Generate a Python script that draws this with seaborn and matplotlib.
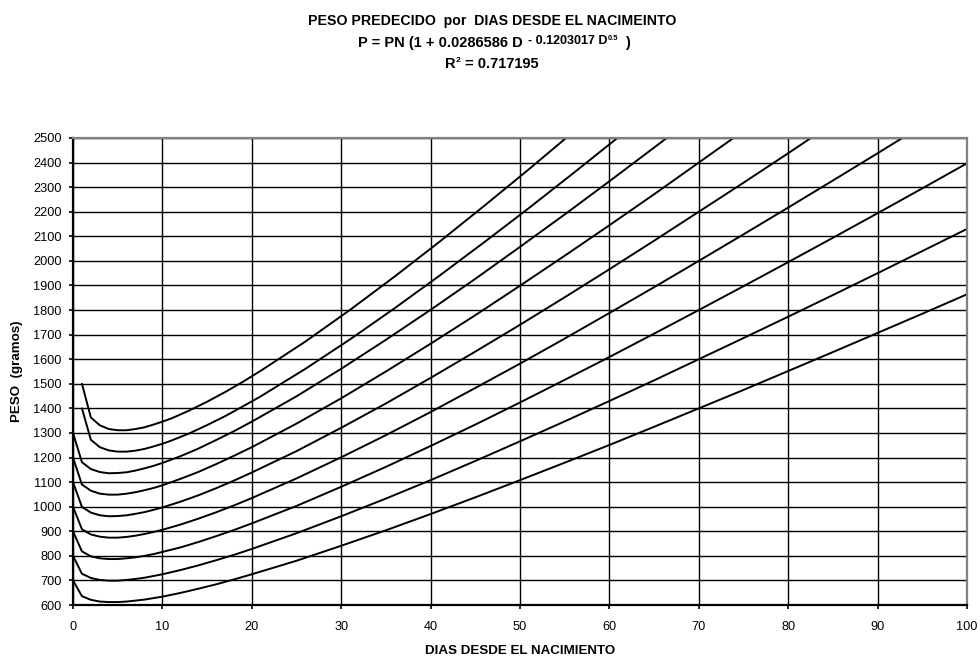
import matplotlib
matplotlib.use("Agg")
import matplotlib.pyplot as plt
from matplotlib.transforms import IdentityTransform
import numpy as np
import pandas as pd
import seaborn as sns

# Days since birth at which the predicted weights are listed
DIAS = [0, 1, 2, 3, 4, 5, 6, 7, 8, 9, 10, 12, 14, 16, 18, 20,
        25, 30, 35, 40, 45, 50, 55, 60, 65, 70, 75, 80, 85, 90, 95, 100]
# The two heaviest birth weights are listed one day later
DIAS_TARDE = [1, 2, 3, 4, 5, 6, 7, 8, 9, 10, 11, 13, 15, 17, 19, 21,
              26, 31, 36, 41, 46, 51, 56, 61]

# Predicted weight (grams) for each birth weight PN
PESO_700 = [700, 636, 621, 614, 612, 612, 614, 618, 622, 628, 634, 649, 666, 684, 704, 725,
            780, 841, 904, 970, 1038, 1108, 1179, 1251, 1325, 1400, 1475, 1552, 1629, 1707, 1785, 1864]
PESO_800 = [800, 727, 710, 702, 699, 699, 702, 706, 711, 718, 725, 742, 761, 782, 804, 828,
            892, 961, 1033, 1108, 1186, 1266, 1347, 1430, 1514, 1600, 1686, 1773, 1861, 1950, 2040, 2130]
PESO_900 = [900, 818, 798, 790, 787, 787, 790, 794, 800, 807, 816, 834, 856, 880, 905, 932,
            1003, 1081, 1162, 1247, 1334, 1424, 1516, 1609, 1704, 1800, 1897, 1995, 2094, 2194, 2295, 2397]
PESO_1000 = [1000, 908, 887, 878, 874, 874, 877, 882, 889, 897, 906, 927, 951, 977, 1005, 1035,
             1115, 1201, 1291, 1385, 1483, 1582, 1684, 1788, 1893, 2000, 2108, 2217, 2327, 2438, 2550]
PESO_1100 = [1100, 999, 976, 965, 961, 962, 965, 971, 978, 987, 997, 1020, 1046, 1075, 1106, 1139,
             1226, 1321, 1420, 1524, 1631, 1740, 1852, 1966, 2082, 2200, 2318, 2438, 2560]
PESO_1200 = [1200, 1090, 1065, 1053, 1049, 1049, 1053, 1059, 1067, 1076, 1087, 1113, 1141, 1173, 1207, 1242,
             1338, 1441, 1550, 1663, 1779, 1899, 2021, 2145, 2271, 2400, 2529]
PESO_1300 = [1300, 1181, 1153, 1141, 1136, 1137, 1140, 1147, 1156, 1166, 1178, 1205, 1236, 1271, 1307, 1346,
             1449, 1561, 1679, 1801, 1927, 2057, 2189, 2324, 2461, 2599]
PESO_1400 = [1400, 1272, 1242, 1229, 1224, 1224, 1228, 1235, 1245, 1256, 1269, 1298, 1332, 1368, 1408, 1449,
             1561, 1681, 1808, 1940, 2076, 2215, 2358, 2503]
PESO_1500 = [1500, 1363, 1331, 1316, 1311, 1311, 1316, 1323, 1334, 1346, 1359, 1391, 1427, 1466, 1508, 1553,
             1672, 1801, 1937, 2078, 2224, 2373, 2526]

CURVAS = [
    ("700", DIAS, PESO_700),
    ("800", DIAS, PESO_800),
    ("900", DIAS, PESO_900),
    ("1000", DIAS, PESO_1000),
    ("1100", DIAS, PESO_1100),
    ("1200", DIAS, PESO_1200),
    ("1300", DIAS, PESO_1300),
    ("1400", DIAS_TARDE, PESO_1400),
    ("1500", DIAS_TARDE, PESO_1500),
]

X_TICKS = list(range(0, 101, 10))
Y_TICKS = list(range(600, 2501, 100))

filas = []
for pn, dias, pesos in CURVAS:
    for d, p in zip(dias, pesos):
        filas.append({"pn": pn, "dia": d, "peso": p})
df = pd.DataFrame(filas)

sns.set_style("ticks")
plt.rcParams["font.family"] = ["Liberation Sans", "DejaVu Sans"]
plt.rcParams["text.color"] = "black"
plt.rcParams["xtick.color"] = "black"
plt.rcParams["ytick.color"] = "black"

W, H = 980, 657
fig = plt.figure(figsize=(W / 100, H / 100), dpi=100)
x0, x1, y0, y1 = 73, 967, 138, 605
ax = fig.add_axes([x0 / W, 1 - y1 / H, (x1 - x0) / W, (y1 - y0) / H])

sns.lineplot(data=df, x="dia", y="peso", units="pn", estimator=None, sort=False,
             color="black", linewidth=1.4, ax=ax, legend=False)

ax.set_xlim(0, 100)
ax.set_ylim(600, 2500)
ax.set_xticks(X_TICKS)
ax.set_yticks(Y_TICKS)
ax.set_xticklabels([str(v) for v in X_TICKS])
ax.set_yticklabels([str(v) for v in Y_TICKS])
ax.set_axisbelow(True)
ax.grid(True, color="black", linewidth=1.0)
ax.tick_params(axis="both", direction="out", length=3.2, width=1.2, color="black",
               labelsize=9.2, labelcolor="black")
ax.tick_params(axis="x", pad=8)
ax.tick_params(axis="y", pad=5)
ax.set_xlabel("")
ax.set_ylabel("")

for lado in ("left", "bottom"):
    ax.spines[lado].set_color("black")
    ax.spines[lado].set_linewidth(1.6)
for lado in ("top", "right"):
    ax.spines[lado].set_visible(True)
    ax.spines[lado].set_color("#808080")
    ax.spines[lado].set_linewidth(1.6)

# Axis titles
fig.text((x0 + x1) / 2 / W, 1 - 651 / H, "DIAS DESDE EL NACIMIENTO", ha="center", va="center",
         fontsize=9.6, fontweight="bold", color="black")
fig.text(17 / W, 1 - ((y0 + y1) / 2) / H, "PESO  (gramos)", ha="center", va="center",
         rotation=90, fontsize=9.6, fontweight="bold", color="black")

# Title lines built from pieces so the exponent parts sit raised
renderer = fig.canvas.get_renderer()
ident = IdentityTransform()


def linea(piezas, xc, y_base):
    textos = []
    total = 0.0
    for texto, tam, subir, hueco in piezas:
        t = fig.text(0, 0, texto, fontsize=tam, fontweight="bold", transform=ident,
                     ha="left", va="baseline", color="black")
        w = t.get_window_extent(renderer).width
        textos.append((t, w, subir, hueco))
        total += hueco + w
    x = xc - total / 2
    for t, w, subir, hueco in textos:
        x += hueco
        t.set_position((x, H - y_base + subir))
        x += w


linea([("PESO PREDECIDO  por  DIAS DESDE EL NACIMEINTO", 10.2, 0, 0)], 492, 24.5)
linea([("P = PN (1 + 0.0286586 D", 10.5, 0, 0),
       ("- 0.1203017 D", 9.0, 3, 4.5),
       ("0.5", 5.4, 6.7, 0.3),
       (")", 10.5, 0, 7)], 494, 46.5)
linea([("R", 10.5, 0, 0), ("2", 6.0, 5.5, 0.5), ("= 0.717195", 10.5, 0, 4)], 491.5, 68)

fig.savefig("out.png", dpi=100, facecolor="white")
